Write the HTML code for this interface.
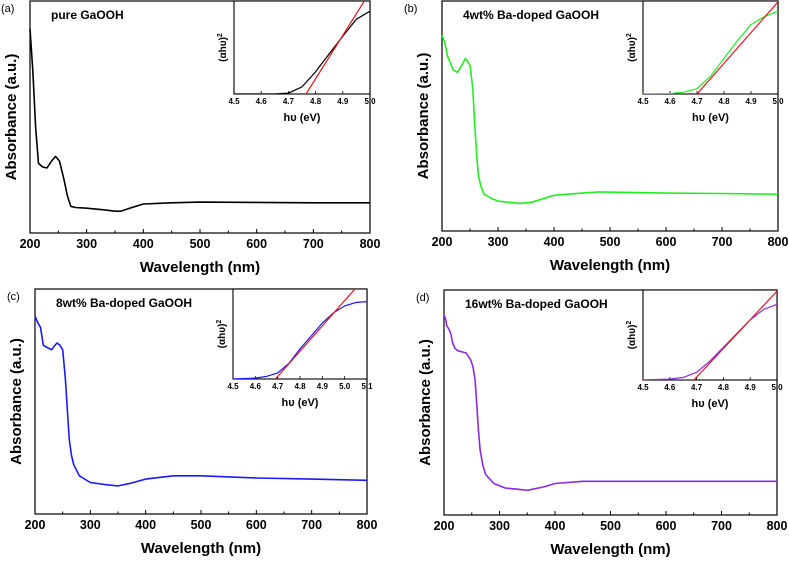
<!DOCTYPE html>
<html><head><meta charset="utf-8"><style>
body{margin:0;background:#fff;}
svg{display:block;font-family:"Liberation Sans",Arial,sans-serif;}
</style></head><body>
<svg id="fig" width="789" height="561"></svg>
<script>
const wlA=[200,205,210,215,222,230,238,245,252,260,266,272,280,300,330,350,360,380,400,450,500,600,700,800];
const absA=[0.88,0.70,0.45,0.30,0.285,0.28,0.31,0.33,0.31,0.23,0.16,0.115,0.11,0.107,0.10,0.094,0.094,0.11,0.125,0.13,0.133,0.132,0.13,0.13];
const wlB=[200,205,210,220,228,235,242,250,255,258,262,265,270,275,290,300,320,340,360,380,400,450,480,600,700,800];
const absB=[0.85,0.82,0.76,0.70,0.69,0.72,0.75,0.72,0.62,0.48,0.33,0.24,0.19,0.16,0.14,0.13,0.125,0.12,0.125,0.14,0.155,0.165,0.17,0.165,0.163,0.16];
const wlC=[200,205,210,215,222,230,236,240,245,250,255,258,262,266,270,280,300,330,350,370,400,450,500,600,700,800];
const absC=[0.88,0.85,0.83,0.75,0.74,0.73,0.75,0.76,0.75,0.73,0.60,0.48,0.33,0.26,0.22,0.17,0.14,0.13,0.125,0.135,0.155,0.17,0.17,0.16,0.155,0.15];
const wlD=[200,203,205,208,210,213,215,220,225,240,248,252,256,258,262,265,270,275,290,310,330,350,380,400,450,600,800];
const absD=[0.89,0.87,0.84,0.83,0.82,0.80,0.77,0.74,0.73,0.72,0.69,0.66,0.60,0.53,0.38,0.29,0.22,0.18,0.14,0.12,0.115,0.11,0.125,0.14,0.15,0.15,0.15];
const evAB=[4.5,4.6,4.65,4.7,4.75,4.8,4.85,4.9,4.95,5.0];
const insA=[0,0,0,0.01,0.08,0.25,0.45,0.65,0.84,0.93];
const insB=[0,0.005,0.02,0.06,0.2,0.4,0.6,0.78,0.87,0.93];
const evC=[4.5,4.6,4.65,4.7,4.75,4.8,4.85,4.9,4.95,5.0,5.05,5.1];
const insC=[0,0.01,0.03,0.07,0.18,0.35,0.5,0.65,0.77,0.85,0.89,0.9];
const insD=[0,0.01,0.03,0.09,0.22,0.38,0.54,0.7,0.82,0.88];
const fitA=[[4.765,0],[4.97,1]];
const fitB=[[4.70,0],[4.99,1]];
const fitC=[[4.69,0],[5.03,1]];
const fitD=[[4.69,0],[4.99,1]];
const mainTicks=[200,300,400,500,600,700,800];
const insTicksAB=[4.5,4.6,4.7,4.8,4.9,5.0];
const insTicksC=[4.5,4.6,4.7,4.8,4.9,5.0,5.1];

const NS="http://www.w3.org/2000/svg";
const svg=document.getElementById('fig');
function mk(tag,attrs,parent,text){const e=document.createElementNS(NS,tag);for(const k in attrs)e.setAttribute(k,attrs[k]);if(text!==undefined)e.textContent=text;(parent||svg).appendChild(e);return e;}

function panel(p){
  const g=mk('g',{});
  
  
  const sx=v=>p.L+(v-200)/600*(p.R-p.L);
  const sy=v=>p.B-v*(p.B-p.T);
  // frame
  const fr=mk('rect',{x:p.L,y:p.T,width:p.R-p.L,height:p.B-p.T,fill:'none',stroke:'#000','stroke-width':1.2},g);
  
  
  for(let v=200;v<=800;v+=50){
    const x=sx(v);const len=(v%100===0)?4:2.5;
    mk('line',{x1:x,x2:x,y1:p.B,y2:p.B-len,stroke:'#000','stroke-width':1},g);
  }
  mainTicks.forEach(v=>{
    const t=mk('text',{x:sx(v),y:p.B+15,'text-anchor':'middle','font-size':12.5,'font-weight':'bold'},g,String(v));
    
    
  });
  const xt=mk('text',{x:(p.L+p.R)/2,y:p.B+39,'text-anchor':'middle','font-size':15,'font-weight':'bold'},g,'Wavelength (nm)');
  
  
  const yx=p.L-14, yy=(p.T+p.B)/2;
  const yt=mk('text',{x:yx,y:yy,'text-anchor':'middle','font-size':15,'font-weight':'bold',transform:`rotate(-90 ${yx} ${yy})`},g,'Absorbance (a.u.)');
  
  
  const lb=mk('text',{x:p.lx,y:p.T+11,'font-size':11},g,'('+p.id+')');
  
  
  const st=mk('text',{x:p.L+21,y:p.T+18,'font-size':12,'font-weight':'bold'},g,p.title);
  
  
  let d='';p.wl.forEach((w,i)=>{d+=(i?'L':'M')+sx(w).toFixed(1)+','+sy(p.ab[i]).toFixed(1);});
  const ln=mk('path',{d:d,fill:'none',stroke:p.color,'stroke-width':1.6,'stroke-linejoin':'round'},g);
  
  
  // inset
  const I=p.ins;
  const ix=v=>I.L+(v-I.x0)/(I.x1-I.x0)*(I.R-I.L);
  const iy=v=>I.B-v*(I.B-I.T-4);
  const ir=mk('rect',{x:I.L,y:I.T,width:I.R-I.L,height:I.B-I.T,fill:'#fff',stroke:'#000','stroke-width':1.1},g);
  
  
  I.ticks.forEach(v=>{
    const x=ix(v);
    mk('line',{x1:x,x2:x,y1:I.B,y2:I.B-3,stroke:'#000','stroke-width':0.8},g);
    const t=mk('text',{x:x,y:I.B+10,'text-anchor':'middle','font-size':8,'font-weight':'bold'},g,v.toFixed(1));
    
    
  });
  const hx=mk('text',{x:(I.L+I.R)/2,y:I.B+27,'text-anchor':'middle','font-size':11,'font-weight':'bold'},g,'hυ (eV)');
  
  
  const ax=I.L-8, ay=(I.T+I.B)/2;
  const hy=mk('text',{x:ax,y:ay,'text-anchor':'middle','font-size':10,'font-weight':'bold',transform:`rotate(-90 ${ax} ${ay})`},g);
  
  
  mk('tspan',{},hy,'(αhυ)');mk('tspan',{dy:-4,'font-size':7},hy,'2');
  const cp=mk('clipPath',{id:'c'+p.id},g);mk('rect',{x:I.L,y:I.T,width:I.R-I.L,height:I.B-I.T},cp);
  let d2='';I.ev.forEach((e,i)=>{d2+=(i?'L':'M')+ix(e).toFixed(1)+','+iy(I.v[i]).toFixed(1);});
  const ic=mk('path',{d:d2,fill:'none',stroke:p.color,'stroke-width':1.2,'clip-path':`url(#c${p.id})`},g);
  
  
  const f=I.fit;const s=(f[1][1]-f[0][1])/(f[1][0]-f[0][0]);
  const fx0=f[0][0], fx1=f[0][0]+1.2/s;
  const fl=mk('line',{x1:ix(fx0),y1:iy(f[0][1]),x2:ix(fx1),y2:iy(f[0][1]+s*(fx1-fx0)),stroke:'#e8141c','stroke-width':1.2,'clip-path':`url(#c${p.id})`},g);
  
  
}
panel({id:'a',L:30,R:370,T:1,B:233,lx:1,color:'#000',wl:wlA,ab:absA,title:'pure GaOOH',
  ins:{L:234,R:370,T:1,B:94,x0:4.5,x1:5.0,ticks:insTicksAB,ev:evAB,v:insA,fit:fitA}});
panel({id:'b',L:442,R:778,T:1,B:231,lx:404,color:'#22ee22',wl:wlB,ab:absB,title:'4wt% Ba-doped GaOOH',
  ins:{L:643,R:778,T:1,B:94,x0:4.5,x1:5.0,ticks:insTicksAB,ev:evAB,v:insB,fit:fitB}});
panel({id:'c',L:35,R:367,T:289,B:514,lx:7,color:'#1a1aff',wl:wlC,ab:absC,title:'8wt% Ba-doped GaOOH',
  ins:{L:233,R:367,T:289,B:379,x0:4.5,x1:5.1,ticks:insTicksC,ev:evC,v:insC,fit:fitC}});
panel({id:'d',L:444,R:777,T:290,B:515,lx:416,color:'#8a2be2',wl:wlD,ab:absD,title:'16wt% Ba-doped GaOOH',
  ins:{L:643,R:777,T:290,B:380,x0:4.5,x1:5.0,ticks:insTicksAB,ev:evAB,v:insD,fit:fitD}});
</script>
</body></html>
